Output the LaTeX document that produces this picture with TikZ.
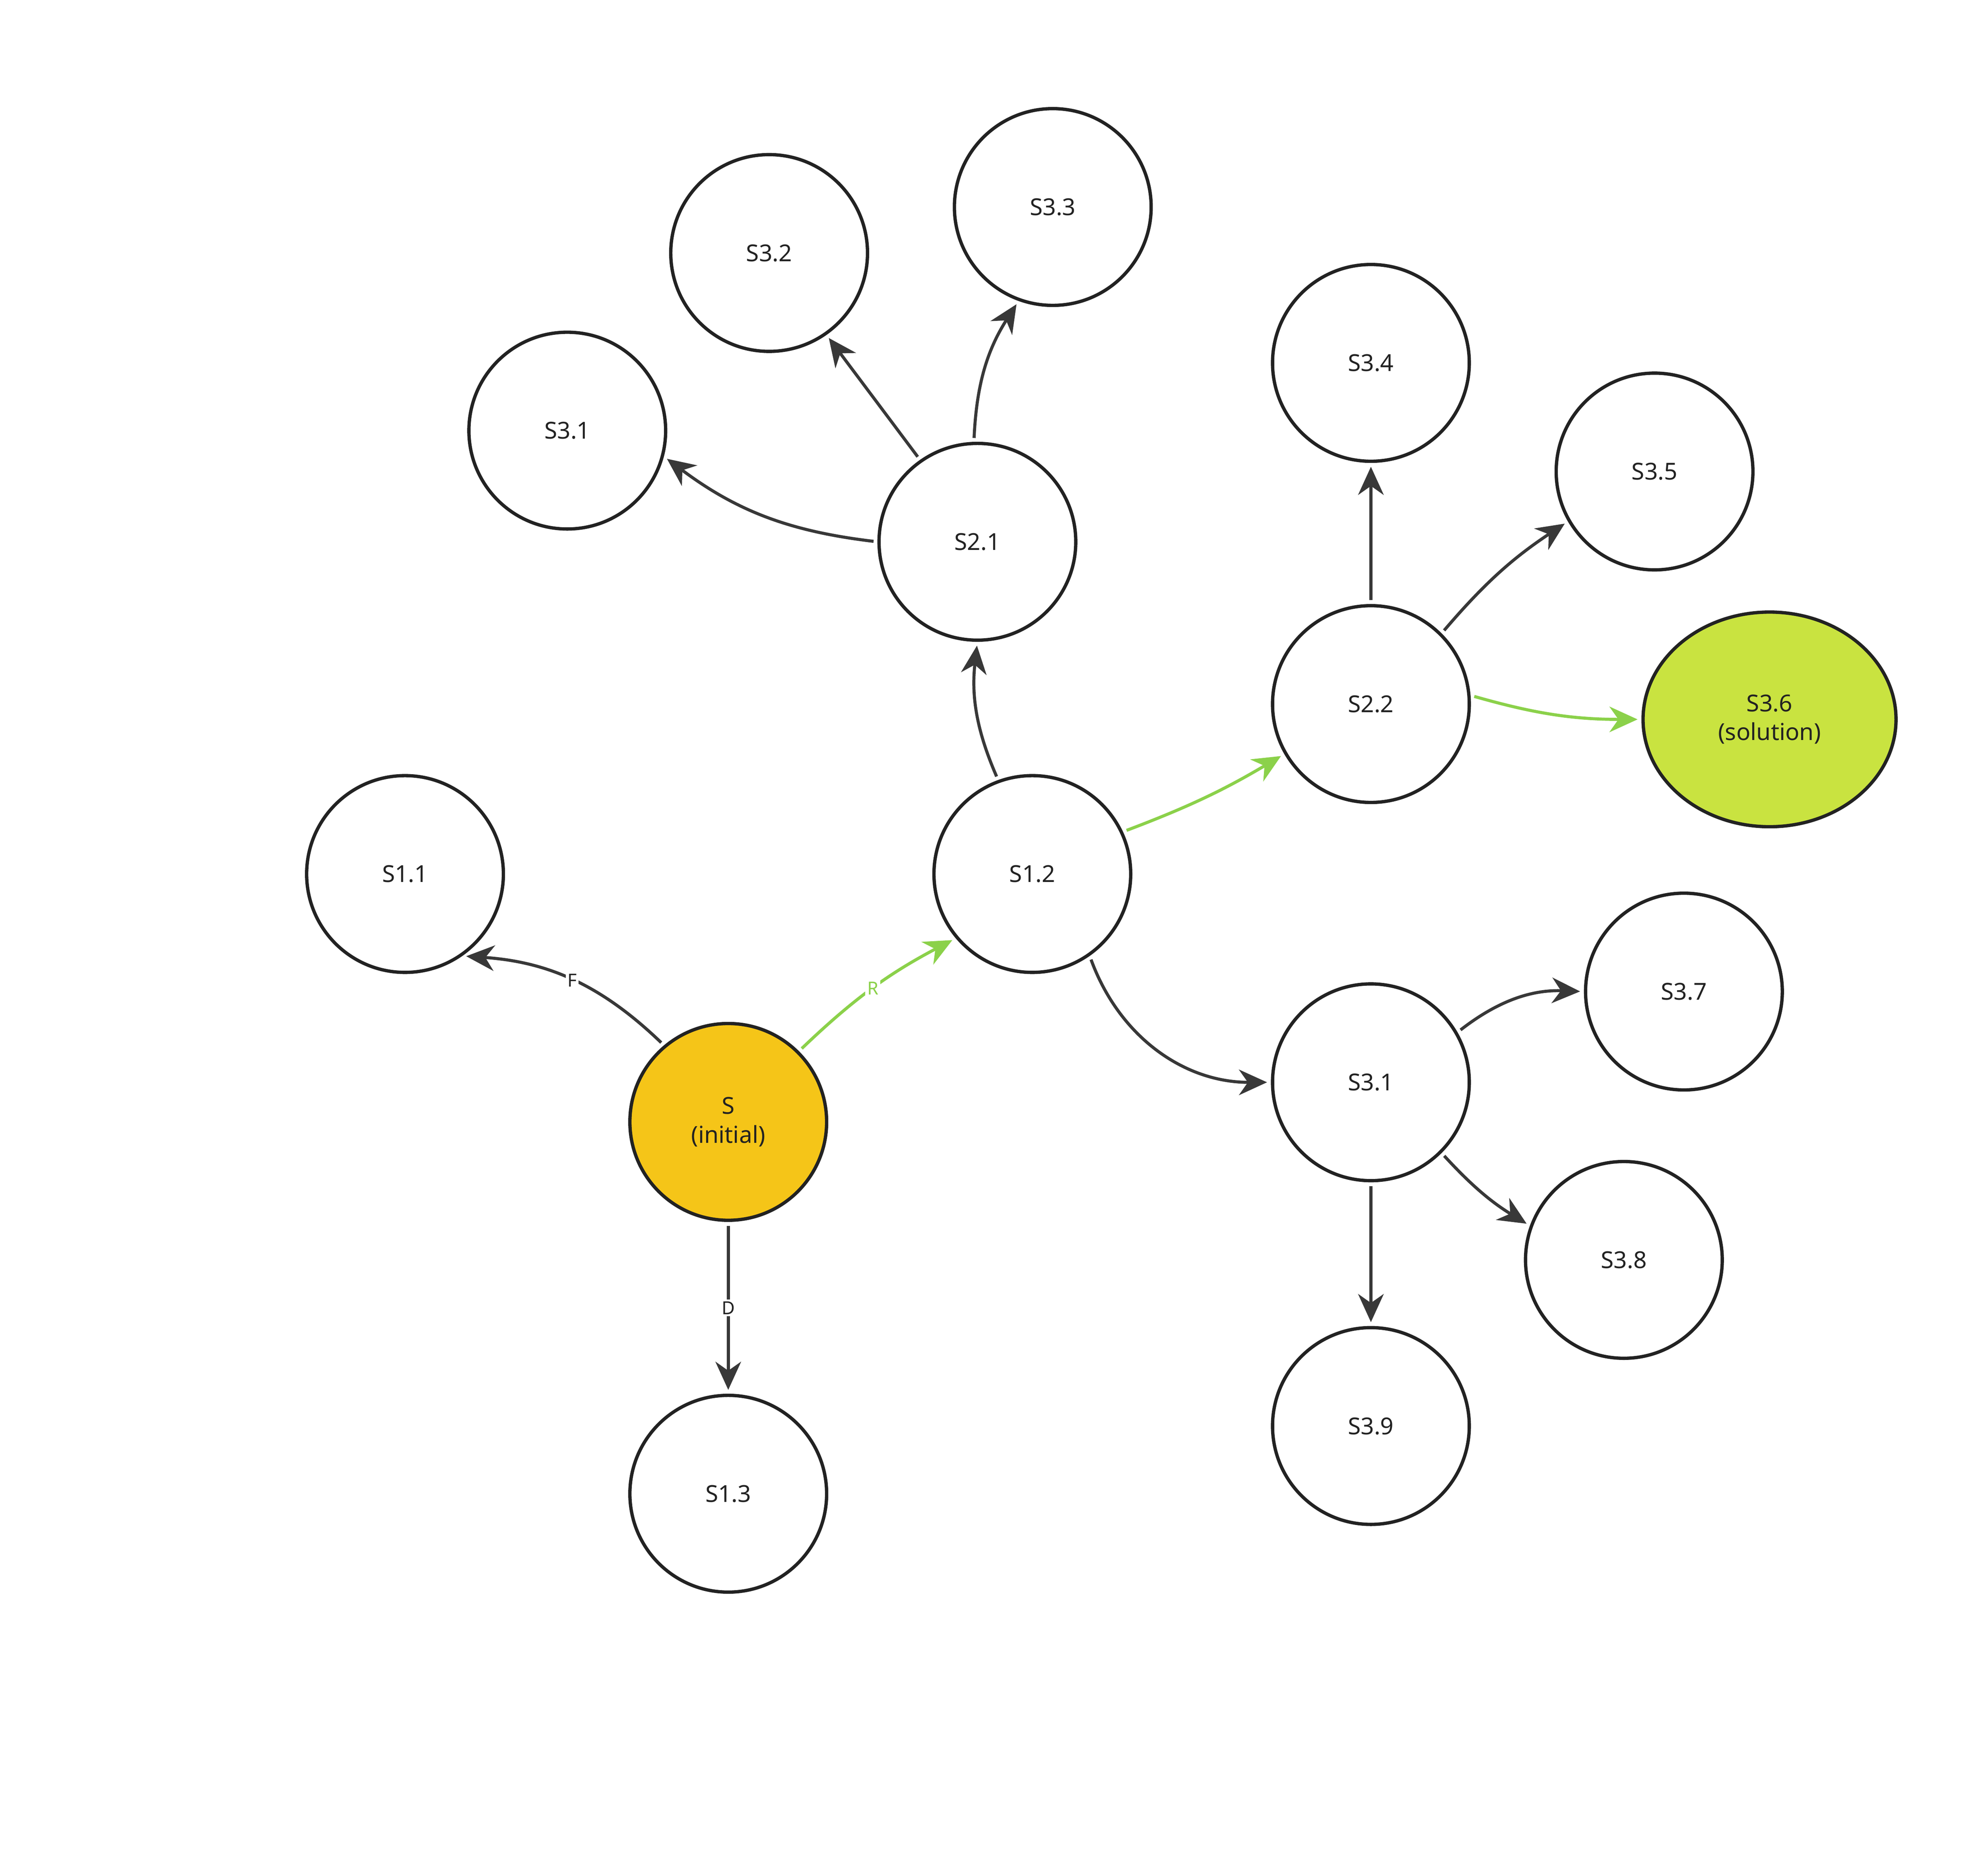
\documentclass[tikz,border=0pt]{standalone}
\usepackage{fontspec}
\setmainfont{Noto Sans}
\usetikzlibrary{arrows.meta,shapes.geometric}
\definecolor{ink}{HTML}{222222}
\definecolor{yel}{HTML}{F5C518}
\definecolor{lime}{HTML}{C9E340}
\definecolor{grn}{HTML}{8BD14A}
\tikzset{
  st/.style={circle,draw=ink,line width=0.13cm,minimum size=7.7cm,inner sep=0pt,align=center,font=\fontsize{26}{32}\selectfont,text=ink},
  ed/.style={draw=ink!90,line width=0.12cm,-{Stealth[length=1.1cm,width=1cm,inset=0.35cm]},shorten >=0.15cm,shorten <=0.15cm},
  ged/.style={ed,draw=grn,-{Stealth[length=1.1cm,width=1cm,inset=0.35cm,color=grn]}},
  lab/.style={fill=white,inner sep=2pt,font=\fontsize{20}{24}\selectfont,text=ink}
}
\begin{document}
\begin{tikzpicture}[x=0.05cm,y=-0.05cm]
\useasboundingbox (0,0) rectangle (1556,1453);
\node[st] (s33) at (824,162) {S3.3};
\node[st] (s32) at (602,198) {S3.2};
\node[st] (s31a) at (444,337) {S3.1};
\node[st] (s21) at (765,424) {S2.1};
\node[st] (s34) at (1073,284) {S3.4};
\node[st] (s35) at (1295,369) {S3.5};
\node[st] (s22) at (1073,551) {S2.2};
\node[ellipse,draw=ink,line width=0.13cm,fill=lime,minimum width=9.9cm,minimum height=8.4cm,align=center,font=\fontsize{26}{32}\selectfont\bfseries,text=ink] (s36) at (1385,563) {S3.6\\(solution)};
\node[st] (s11) at (317,684) {S1.1};
\node[st] (s12) at (808,684) {S1.2};
\node[st,fill=yel,font=\fontsize{26}{32}\selectfont\bfseries] (s) at (570,878) {S\\(initial)};
\node[st] (s31b) at (1073,847) {S3.1};
\node[st] (s37) at (1318,776) {S3.7};
\node[st] (s38) at (1271,986) {S3.8};
\node[st] (s39) at (1073,1116) {S3.9};
\node[st] (s13) at (570,1169) {S1.3};

\draw[ed] (s.130) to[bend right=20] node[lab]{F} (s11.305);
\draw[ged] (s.45) to[bend left=8] node[lab,text=grn]{R} (s12.220);
\draw[ed] (s) -- node[lab]{D} (s13);
\draw[ed] (s12.110) to[bend left=15] (s21.270);
\draw[ged] (s12.25) to[bend right=5] (s22.210);
\draw[ed] (s12.305) to[bend right=35] (s31b.180);
\draw[ed] (s21.180) to[bend left=15] (s31a.-15);
\draw[ed] (s21.125) -- (s32.305);
\draw[ed] (s21.92) to[bend left=15] (s33.250);
\draw[ed] (s22) -- (s34);
\draw[ed] (s22.45) to[bend left=8] (s35.210);
\draw[ged] (s22.5) to[bend right=8] (s36.180);
\draw[ed] (s31b.30) to[bend left=20] (s37.180);
\draw[ed] (s31b.-45) to[bend right=8] (s38.160);
\draw[ed] (s31b) -- (s39);
\end{tikzpicture}
\end{document}
